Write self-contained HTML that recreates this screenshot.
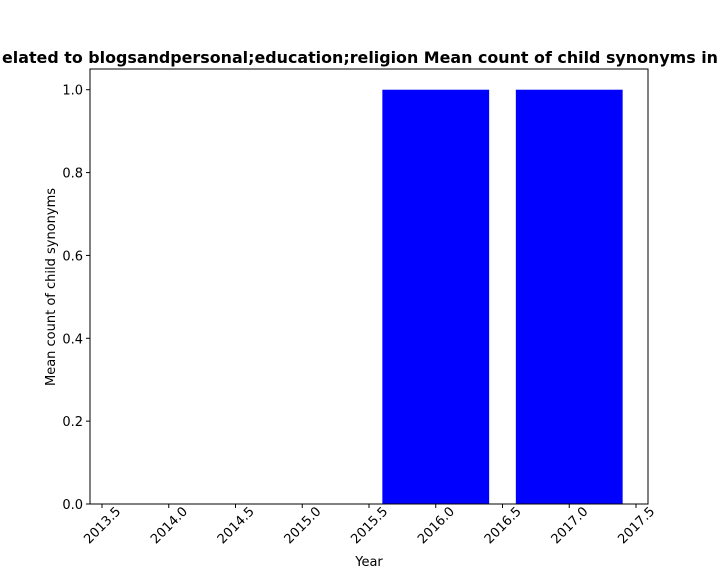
<!DOCTYPE html>
<html><head><meta charset="utf-8"><style>
body{margin:0;background:#fff;}
svg text{font-family:"DejaVu Sans","Liberation Sans",sans-serif;fill:#000;}
</style></head><body>
<svg id="chart" width="720" height="576" xmlns="http://www.w3.org/2000/svg">
<rect width="720" height="576" fill="#fff"/>
<text x="2" y="63" font-size="16" font-weight="bold" textLength="716" lengthAdjust="spacingAndGlyphs">elated to blogsandpersonal;education;religion Mean count of child synonyms in</text>
<g id="plot"></g>
<text x="369" y="566" font-size="13" text-anchor="middle">Year</text>
<text transform="translate(55,287) rotate(-90)" font-size="13" text-anchor="middle">Mean count of child synonyms</text>
</svg>
<script>
const years = [2016, 2017];
const values = [1.0, 1.0];
const xTicks = [2013.5, 2014.0, 2014.5, 2015.0, 2015.5, 2016.0, 2016.5, 2017.0, 2017.5];
const yTicks = [0.0, 0.2, 0.4, 0.6, 0.8, 1.0];
const L=90,R=648,T=69,B=504;
const xMin=2013.41,xMax=2017.59,yMin=0,yMax=1.05;
const xs=v=>L+(v-xMin)/(xMax-xMin)*(R-L);
const ys=v=>B-(v-yMin)/(yMax-yMin)*(B-T);
const NS="http://www.w3.org/2000/svg";
const g=document.getElementById('plot');
function mk(t,a){const e=document.createElementNS(NS,t);for(const k in a)e.setAttribute(k,a[k]);g.appendChild(e);return e;}
years.forEach((y,i)=>{
  const r=mk('rect',{x:xs(y-0.4),y:ys(values[i]),width:xs(y+0.4)-xs(y-0.4),height:ys(0)-ys(values[i]),fill:'#0000ff'});
  
  
});
const frame=mk('rect',{x:L,y:T,width:R-L,height:B-T,fill:'none',stroke:'#000','stroke-width':1});


xTicks.forEach(v=>{
  const x=xs(v);
  mk('line',{x1:x,y1:B,x2:x,y2:B+4,stroke:'#000'});
  const t=mk('text',{x:0,y:0,dy:'0.35em','font-size':13,'text-anchor':'middle',transform:`translate(${x},${B+21}) rotate(-45)`});
  t.textContent=v.toFixed(1);
  
  
});
yTicks.forEach(v=>{
  const y=ys(v);
  mk('line',{x1:L-4,y1:y,x2:L,y2:y,stroke:'#000'});
  const t=mk('text',{x:L-7,y:y+5,'font-size':13,'text-anchor':'end'});
  t.textContent=v.toFixed(1);
  
  
});
</script>
</body></html>
